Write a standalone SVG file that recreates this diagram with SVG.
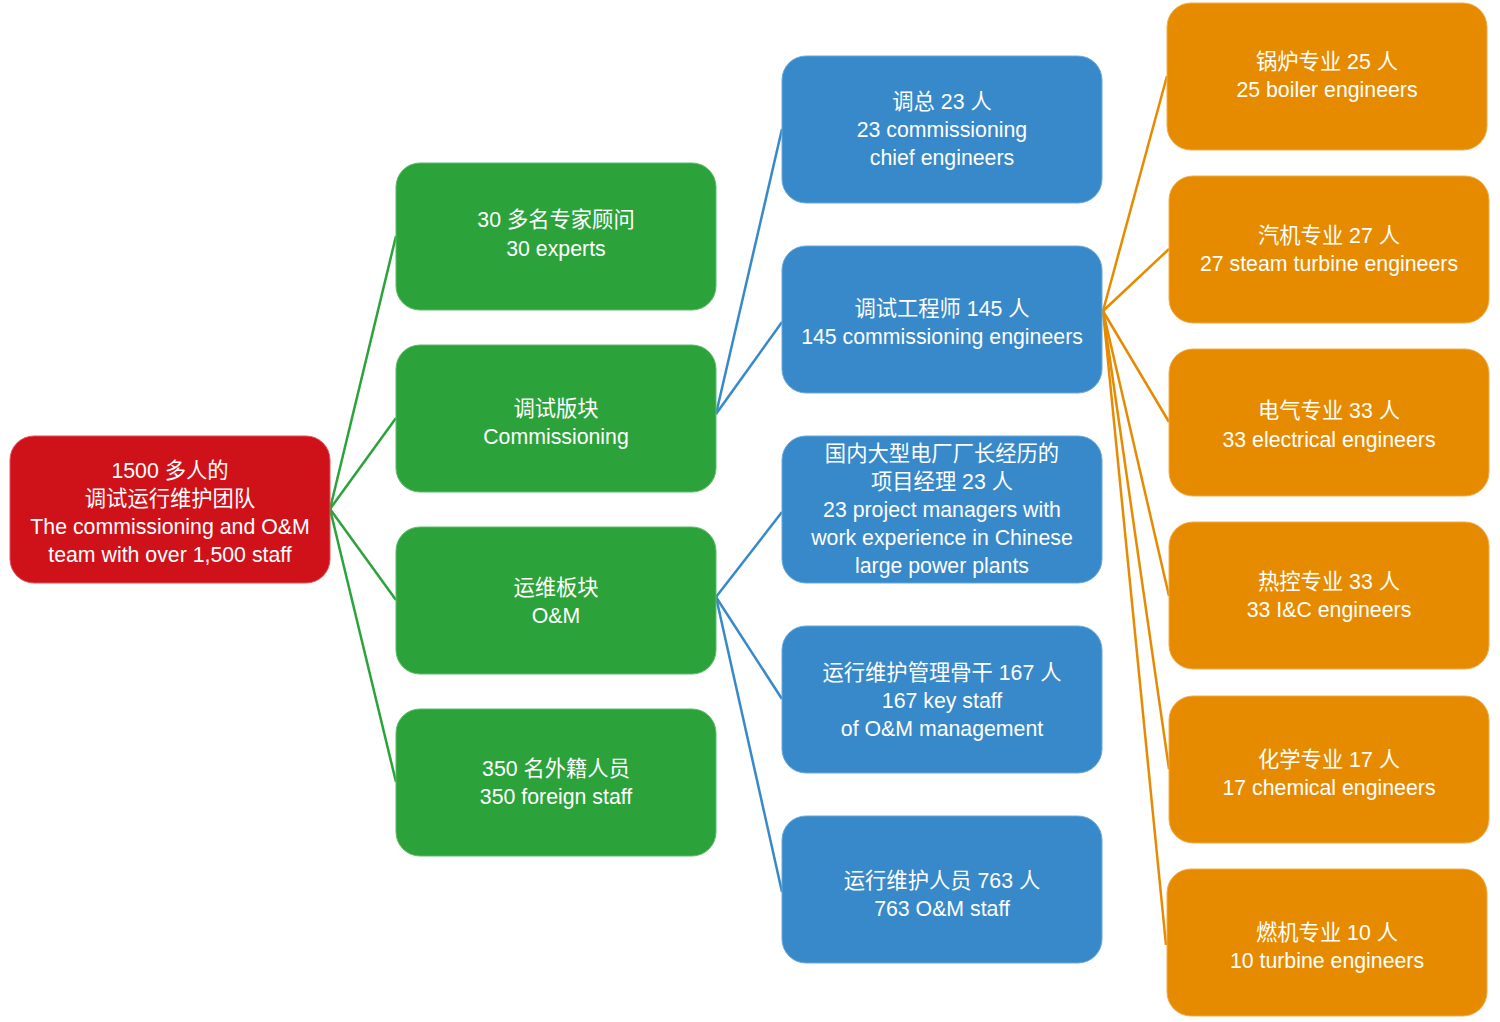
<svg xmlns="http://www.w3.org/2000/svg" width="1500" height="1022" viewBox="0 0 1500 1022">
<style>
text{font-family:"Liberation Sans","Noto Sans CJK SC",sans-serif;font-size:21.3px;fill:#ffffff;text-anchor:middle}
.red{fill:#cf111a;stroke:#e0555a;stroke-width:1}
.green{fill:#2ca33a;stroke:#5cbb66;stroke-width:1}
.blue{fill:#3789c9;stroke:#6aa8da;stroke-width:1}
.orange{fill:#e68b00;stroke:#f0ad4d;stroke-width:1}
.cg{stroke:#2ca33a;stroke-width:2.5;fill:none}
.cb{stroke:#3789c9;stroke-width:2.5;fill:none}
.co{stroke:#e68b00;stroke-width:2.5;fill:none}
</style>
<rect width="1500" height="1022" fill="#ffffff"/>
<g id="connectors">
<line class="cg" x1="330" y1="509" x2="396" y2="236"/>
<line class="cg" x1="330" y1="509" x2="396" y2="418"/>
<line class="cg" x1="330" y1="509" x2="396" y2="600"/>
<line class="cg" x1="330" y1="509" x2="396" y2="782"/>
<line class="cb" x1="716" y1="414" x2="782" y2="129"/>
<line class="cb" x1="716" y1="414" x2="782" y2="322"/>
<line class="cb" x1="716" y1="597" x2="782" y2="512"/>
<line class="cb" x1="716" y1="597" x2="782" y2="699"/>
<line class="cb" x1="716" y1="597" x2="782" y2="892"/>
<line class="co" x1="1103" y1="311" x2="1167" y2="76"/>
<line class="co" x1="1103" y1="311" x2="1169" y2="249"/>
<line class="co" x1="1103" y1="311" x2="1169" y2="422"/>
<line class="co" x1="1103" y1="311" x2="1169" y2="596"/>
<line class="co" x1="1103" y1="311" x2="1169" y2="769"/>
<line class="co" x1="1103" y1="311" x2="1166" y2="945"/>
</g>
<g id="root">
<rect class="red" x="10" y="436" width="320" height="147" rx="24"/>
<text x="170" y="478">1500 多人的</text>
<text x="170" y="506">调试运行维护团队</text>
<text x="170" y="534">The commissioning and O&amp;M</text>
<text x="170" y="562">team with over 1,500 staff</text>
</g>
<g id="experts">
<rect class="green" x="396" y="163" width="320" height="147" rx="24"/>
<text x="556" y="227">30 多名专家顾问</text>
<text x="556" y="256">30 experts</text>
</g>
<g id="commissioning">
<rect class="green" x="396" y="345" width="320" height="147" rx="24"/>
<text x="556" y="416">调试版块</text>
<text x="556" y="444">Commissioning</text>
</g>
<g id="om">
<rect class="green" x="396" y="527" width="320" height="147" rx="24"/>
<text x="556" y="595">运维板块</text>
<text x="556" y="623">O&amp;M</text>
</g>
<g id="foreign">
<rect class="green" x="396" y="709" width="320" height="147" rx="24"/>
<text x="556" y="776">350 名外籍人员</text>
<text x="556" y="804">350 foreign staff</text>
</g>
<g id="chief">
<rect class="blue" x="782" y="56" width="320" height="147" rx="24"/>
<text x="942" y="109">调总 23 人</text>
<text x="942" y="137">23 commissioning</text>
<text x="942" y="165">chief engineers</text>
</g>
<g id="engineers">
<rect class="blue" x="782" y="246" width="320" height="147" rx="24"/>
<text x="942" y="316">调试工程师 145 人</text>
<text x="942" y="344">145 commissioning engineers</text>
</g>
<g id="managers">
<rect class="blue" x="782" y="436" width="320" height="147" rx="24"/>
<text x="942" y="461">国内大型电厂厂长经历的</text>
<text x="942" y="489">项目经理 23 人</text>
<text x="942" y="517">23 project managers with</text>
<text x="942" y="545">work experience in Chinese</text>
<text x="942" y="573">large power plants</text>
</g>
<g id="keystaff">
<rect class="blue" x="782" y="626" width="320" height="147" rx="24"/>
<text x="942" y="680">运行维护管理骨干 167 人</text>
<text x="942" y="708">167 key staff</text>
<text x="942" y="736">of O&amp;M management</text>
</g>
<g id="omstaff">
<rect class="blue" x="782" y="816" width="320" height="147" rx="24"/>
<text x="942" y="888">运行维护人员 763 人</text>
<text x="942" y="916">763 O&amp;M staff</text>
</g>
<g id="boiler">
<rect class="orange" x="1167" y="3" width="320" height="147" rx="24"/>
<text x="1327" y="69">锅炉专业 25 人</text>
<text x="1327" y="97">25 boiler engineers</text>
</g>
<g id="steam">
<rect class="orange" x="1169" y="176" width="320" height="147" rx="24"/>
<text x="1329" y="243">汽机专业 27 人</text>
<text x="1329" y="271">27 steam turbine engineers</text>
</g>
<g id="electrical">
<rect class="orange" x="1169" y="349" width="320" height="147" rx="24"/>
<text x="1329" y="418">电气专业 33 人</text>
<text x="1329" y="447">33 electrical engineers</text>
</g>
<g id="ic">
<rect class="orange" x="1169" y="522" width="320" height="147" rx="24"/>
<text x="1329" y="589">热控专业 33 人</text>
<text x="1329" y="617">33 I&amp;C engineers</text>
</g>
<g id="chemical">
<rect class="orange" x="1169" y="696" width="320" height="147" rx="24"/>
<text x="1329" y="767">化学专业 17 人</text>
<text x="1329" y="795">17 chemical engineers</text>
</g>
<g id="turbine">
<rect class="orange" x="1167" y="869" width="320" height="147" rx="24"/>
<text x="1327" y="940">燃机专业 10 人</text>
<text x="1327" y="968">10 turbine engineers</text>
</g>
</svg>
